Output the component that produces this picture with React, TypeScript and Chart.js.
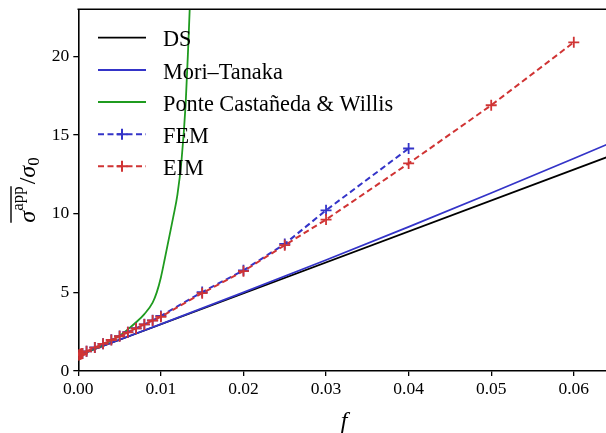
import React, { useEffect, useRef } from 'react';
import { Chart, registerables } from 'chart.js';

Chart.register(...registerables);

// axis ranges and ticks
const xMin = 0;
const xMax = 0.0639;
const yMin = 0;
const yMax = 23;
const xTickStep = 0.01;
const yTickStep = 5;
const xTitle = 'f';

// DS (dilute solution)
const dsF = [0, 0.064];
const dsY = [1, 13.6];

// Mori–Tanaka
const mtF = [0, 0.01, 0.02, 0.03, 0.04, 0.05, 0.06, 0.064];
const mtY = [1, 2.98, 5.0, 7.06, 9.17, 11.32, 13.51, 14.4];

// Ponte Castañeda & Willis
const pcwF = [0, 0.001, 0.002, 0.003, 0.004, 0.005, 0.006, 0.007, 0.008, 0.009, 0.0095, 0.01, 0.0105, 0.011, 0.0115, 0.012, 0.0125, 0.013, 0.0133, 0.0136, 0.014];
const pcwY = [1, 1.2, 1.42, 1.66, 1.95, 2.25, 2.65, 3.1, 3.62, 4.35, 5.0, 5.95, 7.2, 8.5, 9.8, 11.2, 13.4, 17.0, 20.5, 24.5, 32];

// FEM
const femF = [0.0005, 0.001, 0.002, 0.003, 0.004, 0.005, 0.006, 0.007, 0.008, 0.009, 0.01, 0.015, 0.02, 0.025, 0.03, 0.04];
const femY = [1.12, 1.25, 1.5, 1.73, 1.98, 2.22, 2.47, 2.72, 2.97, 3.22, 3.5, 5.02, 6.4, 8.08, 10.22, 14.15];

// EIM
const eimF = [0, 0.0001, 0.0002, 0.0003, 0.0004, 0.0005, 0.001, 0.002, 0.003, 0.004, 0.005, 0.006, 0.007, 0.008, 0.009, 0.01, 0.015, 0.02, 0.025, 0.03, 0.04, 0.05, 0.06];
const eimY = [1.0, 1.03, 1.05, 1.08, 1.1, 1.12, 1.25, 1.49, 1.73, 1.97, 2.21, 2.46, 2.71, 2.96, 3.21, 3.45, 4.95, 6.35, 8.0, 9.63, 13.2, 16.9, 20.9];

const seriesNames = ['DS', 'Mori–Tanaka', 'Ponte Castañeda & Willis', 'FEM', 'EIM'];

const BLACK = '#000000';
const BLUE = '#3434c8';
const GREEN = '#1f9b1f';
const RED = '#d03434';
const SERIF = '"Liberation Serif", "Times New Roman", serif';

const pts = (xs: number[], ys: number[]) => xs.map((x, i) => ({ x, y: ys[i] }));

const legendStyles = [
  { color: BLACK, dashed: false },
  { color: BLUE, dashed: false },
  { color: GREEN, dashed: false },
  { color: BLUE, dashed: true },
  { color: RED, dashed: true },
];

const decorPlugin = {
  id: 'decor',
  afterDraw(chart: any) {
    const ctx: CanvasRenderingContext2D = chart.ctx;
    const a = chart.chartArea;
    ctx.save();
    // top spine
    ctx.strokeStyle = '#000';
    ctx.lineWidth = 1.6;
    ctx.beginPath();
    ctx.moveTo(a.left - 0.8, a.top);
    ctx.lineTo(a.right, a.top);
    ctx.stroke();

    // legend
    const rowY = [37.7, 70, 102, 134.3, 166.3];
    const x0 = 98;
    const x1 = 146;
    seriesNames.forEach((name, i) => {
      const st = legendStyles[i];
      const y = rowY[i];
      ctx.strokeStyle = st.color;
      ctx.lineWidth = st.dashed ? 2 : 1.8;
      ctx.setLineDash(st.dashed ? [6, 3.5] : []);
      ctx.beginPath();
      ctx.moveTo(x0, y);
      ctx.lineTo(x1, y);
      ctx.stroke();
      ctx.setLineDash([]);
      if (st.dashed) {
        const cx = (x0 + x1) / 2;
        ctx.lineWidth = 2;
        ctx.beginPath();
        ctx.moveTo(cx - 5.5, y);
        ctx.lineTo(cx + 5.5, y);
        ctx.moveTo(cx, y - 5.5);
        ctx.lineTo(cx, y + 5.5);
        ctx.stroke();
      }
      ctx.fillStyle = '#000';
      ctx.font = `22.3px ${SERIF}`;
      ctx.textAlign = 'left';
      ctx.textBaseline = 'alphabetic';
      ctx.fillText(name, 163, y + 8.6);
    });

    // x title
    ctx.fillStyle = '#000';
    ctx.font = `italic 24px ${SERIF}`;
    ctx.textAlign = 'center';
    ctx.textBaseline = 'alphabetic';
    ctx.fillText(xTitle, (a.left + a.right) / 2 + 2, 428);

    // y title: overline(σ^app) / σ_0
    ctx.translate(35, 190);
    ctx.rotate(-Math.PI / 2);
    const big = 24;
    const small = 17;
    const parts = [
      { t: 'σ', font: `italic ${big}px ${SERIF}`, dy: 0 },
      { t: 'app', font: `${small}px ${SERIF}`, dy: -12 },
      { t: '/', font: `${big}px ${SERIF}`, dy: 0 },
      { t: 'σ', font: `italic ${big}px ${SERIF}`, dy: 0 },
      { t: '0', font: `${small}px ${SERIF}`, dy: 4 },
    ];
    const widths = parts.map((p) => {
      ctx.font = p.font;
      return ctx.measureText(p.t).width;
    });
    const total = widths.reduce((s, w) => s + w, 0) + 2;
    let x = -total / 2;
    ctx.textAlign = 'left';
    const overStart = x;
    parts.forEach((p, i) => {
      ctx.font = p.font;
      ctx.fillText(p.t, x, p.dy);
      x += widths[i];
      if (i === 1) {
        ctx.lineWidth = 1.4;
        ctx.strokeStyle = '#000';
        ctx.beginPath();
        ctx.moveTo(overStart, -24);
        ctx.lineTo(x, -24);
        ctx.stroke();
        x += 2;
      }
    });
    ctx.restore();
  },
};

export default function App() {
  const ref = useRef<HTMLCanvasElement | null>(null);

  useEffect(() => {
    if (!ref.current) return;
    const lineDs = (label: string, data: any[], color: string, order: number, smooth = false) => ({
      label,
      data,
      borderColor: color,
      backgroundColor: color,
      borderWidth: 1.8,
      pointRadius: 0,
      showLine: true,
      tension: smooth ? 0.4 : 0,
      cubicInterpolationMode: smooth ? 'monotone' : 'default',
      order,
    });
    const markDs = (label: string, data: any[], color: string, order: number) => ({
      label,
      data,
      borderColor: color,
      backgroundColor: color,
      borderWidth: 2,
      borderDash: [6, 3.5],
      pointStyle: 'cross',
      pointRadius: 5.5,
      pointBorderWidth: 1.8,
      pointBorderColor: color,
      showLine: true,
      tension: 0,
      order,
    });

    const chart = new Chart(ref.current, {
      type: 'scatter',
      data: {
        datasets: [
          lineDs(seriesNames[0], pts(dsF, dsY), BLACK, 5),
          lineDs(seriesNames[1], pts(mtF, mtY), BLUE, 4),
          lineDs(seriesNames[2], pts(pcwF, pcwY), GREEN, 3, true),
          markDs(seriesNames[3], pts(femF, femY), BLUE, 2),
          markDs(seriesNames[4], pts(eimF, eimY), RED, 1),
        ] as any,
      },
      options: {
        animation: false,
        responsive: false,
        maintainAspectRatio: false,
        layout: { autoPadding: false, padding: { top: 9.3, right: 0, left: 0, bottom: 0 } },
        plugins: {
          legend: { display: false },
          tooltip: { enabled: false },
        },
        scales: {
          x: {
            type: 'linear',
            min: xMin,
            max: xMax,
            afterFit: (s: any) => {
              s.height = 62;
              s.paddingLeft = 0;
              s.paddingRight = 0;
            },
            border: { display: true, color: '#000', width: 1.6 },
            grid: { drawOnChartArea: false, drawTicks: true, tickLength: 5, color: '#000', lineWidth: 1.3 },
            ticks: {
              stepSize: xTickStep,
              includeBounds: false,
              autoSkip: false,
              maxRotation: 0,
              padding: 3,
              color: '#000',
              font: { family: SERIF, size: 17.5 },
              callback: (v: any) => Number(v).toFixed(2),
            },
          },
          y: {
            type: 'linear',
            min: yMin,
            max: yMax,
            afterFit: (s: any) => {
              s.width = 78.3;
              s.paddingTop = 0;
              s.paddingBottom = 0;
            },
            border: { display: true, color: '#000', width: 1.6 },
            grid: { drawOnChartArea: false, drawTicks: true, tickLength: 5, color: '#000', lineWidth: 1.3 },
            ticks: {
              stepSize: yTickStep,
              includeBounds: false,
              padding: 4,
              color: '#000',
              font: { family: SERIF, size: 17.5 },
              callback: (v: any) => String(Math.round(Number(v))),
            },
          },
        },
      } as any,
      plugins: [decorPlugin],
    });
    return () => chart.destroy();
  }, []);

  return (
    <div style={{ position: 'fixed', left: 0, top: 0, width: 606, height: 433, background: '#fff' }}>
      <canvas ref={ref} width={606} height={433} style={{ width: 606, height: 433, display: 'block' }} />
    </div>
  );
}
